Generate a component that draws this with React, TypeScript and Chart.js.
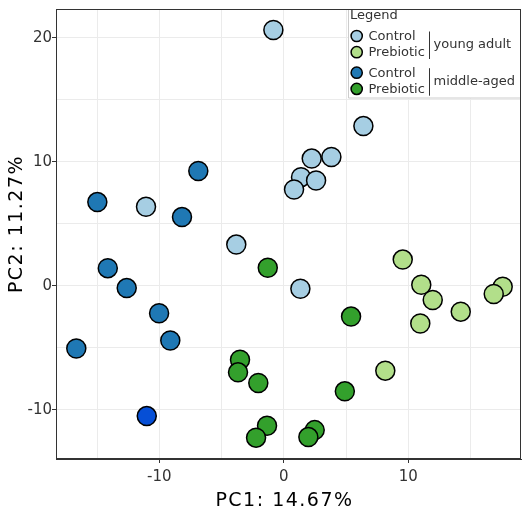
import React, { useEffect, useRef } from "react";
import { Chart, registerables } from "chart.js";

Chart.register(...registerables);

// PC1 / PC2 scores per group
const youngControlX = [-0.84, 6.39, 3.82, 2.24, 1.38, 2.59, 0.82, -11.07, -3.82, 1.33];
const youngControlY = [20.64, 12.88, 10.39, 10.26, 8.76, 8.49, 7.77, 6.37, 3.32, -0.24];

const youngPrebioticX = [9.55, 11.04, 11.96, 14.21, 10.96, 17.58, 16.86, 8.15];
const youngPrebioticY = [2.11, 0.08, -1.15, -2.09, -3.05, -0.08, -0.67, -6.85];

const middleControlX = [-6.87, -14.98, -8.18, -14.14, -12.62, -10.02, -9.12, -16.67];
const middleControlY = [9.26, 6.75, 5.54, 1.42, -0.19, -2.22, -4.42, -5.06];

const middlePrebioticX = [-1.29, 5.4, -3.52, -3.68, -2.05, 4.9, -1.35, -2.23, 2.48, 1.97];
const middlePrebioticY = [1.45, -2.49, -5.97, -6.99, -7.85, -8.52, -11.3, -12.26, -11.65, -12.21];

const outlierX = [-11.01];
const outlierY = [-10.52];

const xTitle = "PC1: 14.67%";
const yTitle = "PC2: 11.27%";
const legendTitle = "Legend";
const legendGroups = [
  { label: "young adult", items: ["Control", "Prebiotic"], colors: ["#a6cee3", "#b2df8a"] },
  { label: "middle-aged", items: ["Control", "Prebiotic"], colors: ["#1f78b4", "#33a02c"] },
];

const toPoints = (xs: number[], ys: number[]) => xs.map((x, i) => ({ x, y: ys[i] }));

const FONT = "'DejaVu Sans', Verdana, sans-serif";

const overlayPlugin = {
  id: "overlay",
  afterDraw(chart: any) {
    const ctx = chart.ctx as CanvasRenderingContext2D;
    const a = chart.chartArea;
    ctx.save();
    (ctx as any).letterSpacing = "0px";
    // panel border
    ctx.strokeStyle = "#333333";
    ctx.lineWidth = 1;
    ctx.strokeRect(a.left + 0.5, a.top + 0.5, a.right - a.left - 1, a.bottom - a.top - 1);

    // legend box
    const lx = 348.5;
    const ly = a.top + 0.5;
    const lw = a.right - 1 - lx;
    const lh = 98 - ly;
    ctx.fillStyle = "#ffffff";
    ctx.fillRect(lx, ly + 0.5, lw, lh);
    ctx.strokeStyle = "#cccccc";
    ctx.beginPath();
    ctx.moveTo(lx, ly + 0.5);
    ctx.lineTo(lx, ly + lh);
    ctx.lineTo(lx + lw, ly + lh);
    ctx.stroke();

    ctx.fillStyle = "#333333";
    ctx.font = `13px ${FONT}`;
    ctx.textBaseline = "middle";
    ctx.textAlign = "left";
    ctx.fillText(legendTitle, 350, 16);

    const groupY = [36, 72.7];
    legendGroups.forEach((g, gi) => {
      const y0 = groupY[gi];
      g.items.forEach((label, ii) => {
        const y = y0 + ii * 16.2;
        ctx.beginPath();
        ctx.arc(356.7, y, 5.6, 0, Math.PI * 2);
        ctx.fillStyle = g.colors[ii];
        ctx.fill();
        ctx.lineWidth = 1.5;
        ctx.strokeStyle = "#000000";
        ctx.stroke();
        ctx.fillStyle = "#333333";
        ctx.fillText(label, 368.5, y + 0.5);
      });
      ctx.strokeStyle = "#333333";
      ctx.lineWidth = 1;
      ctx.beginPath();
      ctx.moveTo(429.5, y0 - 4.5);
      ctx.lineTo(429.5, y0 + 23);
      ctx.stroke();
      ctx.fillStyle = "#333333";
      ctx.fillText(g.label, 433.5, y0 + 8.5);
    });

    // axis titles
    ctx.fillStyle = "#000000";
    ctx.font = `19px ${FONT}`;
    (ctx as any).letterSpacing = "1.5px";
    ctx.textAlign = "center";
    ctx.textBaseline = "middle";
    ctx.fillText(xTitle, 284.5, 501);
    ctx.translate(17.5, 224);
    ctx.rotate(-Math.PI / 2);
    ctx.fillText(yTitle, 0, 0);
    (ctx as any).letterSpacing = "0px";
    ctx.restore();
  },
};

export default function App() {
  const ref = useRef<HTMLCanvasElement>(null);
  useEffect(() => {
    if (!ref.current) return;
    const tickColor = (c: any) =>
      c.tick && Math.abs(c.tick.value % 10) < 1e-6 ? "#333333" : "rgba(0,0,0,0)";
    const scaleCommon = {
      type: "linear" as const,
      grid: { color: "#ebebeb", lineWidth: 1, tickLength: 4, tickColor, tickWidth: 1 },
      border: { display: true, color: "#333333", width: 1 },
      ticks: {
        stepSize: 5,
        includeBounds: false,
        autoSkip: false,
        color: "#333333",
        font: { family: FONT, size: 15 },
        callback: (v: any) => (Math.abs(Number(v) % 10) < 1e-6 ? String(v) : ""),
      },
    };
    const ds = (data: any[], color: string) => ({
      data,
      backgroundColor: color,
      borderColor: "#000000",
      borderWidth: 1.5,
      pointRadius: 9.5,
      pointHoverRadius: 9.5,
    });
    const chart = new Chart(ref.current, {
      type: "scatter",
      data: {
        datasets: [
          ds(toPoints(youngControlX, youngControlY), "#a6cee3"),
          ds(toPoints(youngPrebioticX, youngPrebioticY), "#b2df8a"),
          ds(toPoints(middleControlX, middleControlY), "#1f78b4"),
          ds(toPoints(middlePrebioticX, middlePrebioticY), "#33a02c"),
          ds(toPoints(outlierX, outlierY), "#064fd6"),
        ],
      },
      options: {
        responsive: false,
        animation: false,
        events: [],
        layout: { autoPadding: false, padding: { top: 7, right: 1, left: 0, bottom: 0 } },
        plugins: { legend: { display: false }, tooltip: { enabled: false } },
        scales: {
          x: {
            ...scaleCommon,
            min: -18.3,
            max: 19.05,
            ticks: { ...scaleCommon.ticks, padding: 5 },
            afterFit: (s: any) => {
              s.height = 55;
            },
          },
          y: {
            ...scaleCommon,
            min: -13.98,
            max: 22.33,
            ticks: { ...scaleCommon.ticks, padding: 0 },
            afterFit: (s: any) => {
              s.width = 56;
            },
          },
        },
      } as any,
      plugins: [overlayPlugin],
    });
    return () => chart.destroy();
  }, []);
  return (
    <div style={{ position: "fixed", left: 0, top: 0, width: 522, height: 514, background: "#fff" }}>
      <canvas ref={ref} width={522} height={514} style={{ width: 522, height: 514, display: "block" }} />
    </div>
  );
}
